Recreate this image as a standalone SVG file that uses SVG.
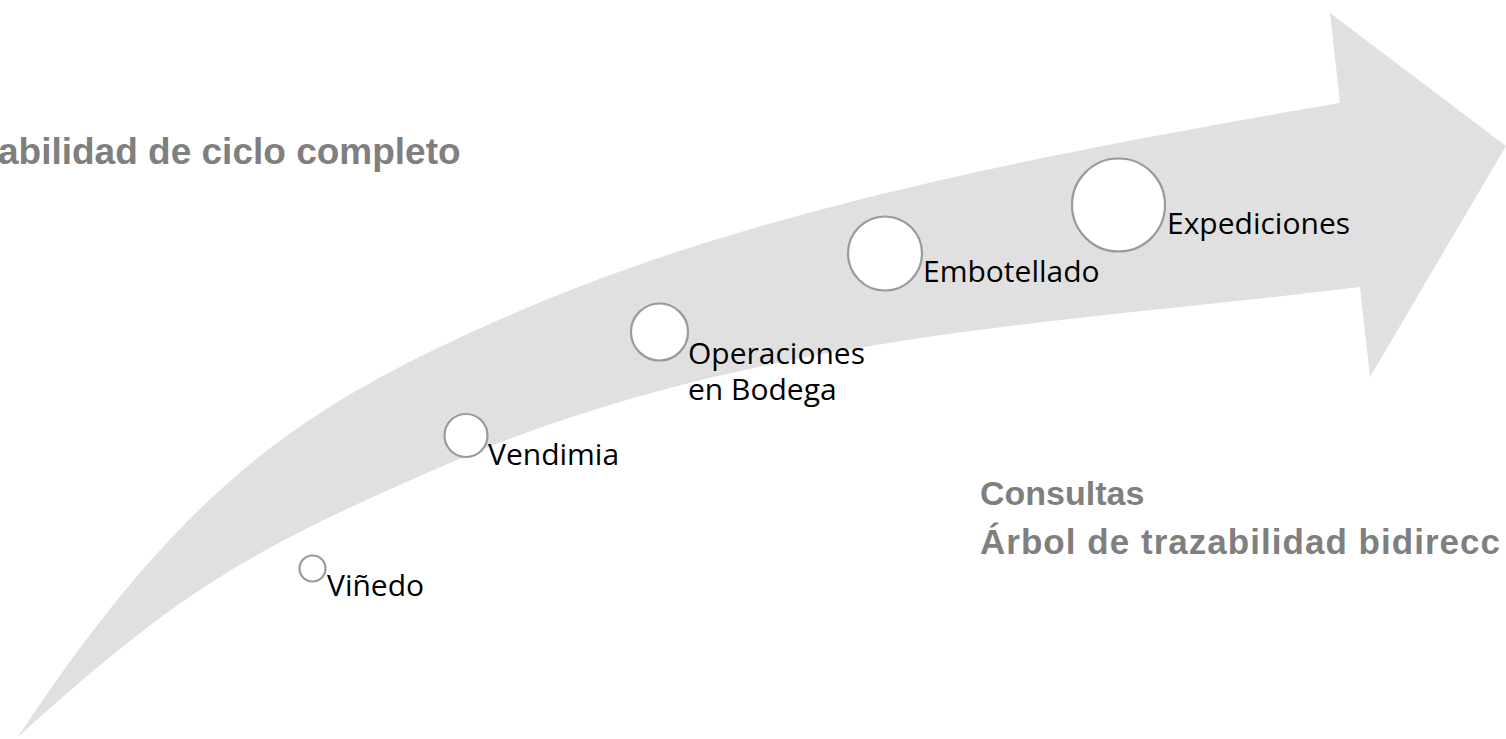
<svg xmlns="http://www.w3.org/2000/svg" width="1506" height="739" viewBox="0 0 1506 739">
<style>
.arrow{fill:#e0e0e0;stroke:none}
.dot{fill:#ffffff;stroke:#9a9a9a;stroke-width:2.2}
.lbl{font-family:"Open Sans","Noto Sans","Liberation Sans",sans-serif;font-size:30px;fill:#000000}
.ttl{font-family:"Liberation Sans",Arial,sans-serif;font-weight:bold;fill:#7f7f7f}
</style>
<rect width="1506" height="739" fill="#ffffff"/>
<g id="arrow">
<path class="arrow" d="M18,737 C183,487 301,409 483,327 C710,224 965,167 1340,103 L1330,13 L1506,146 L1370,377 L1360,287 C1062,324 753,333 450,463 C248,550 181,590 18,737 Z"/>
</g>
<g id="title">
<text class="ttl" x="-2" y="164" font-size="37">abilidad de ciclo completo</text>
</g>
<g id="node-vinedo">
<circle class="dot" cx="312.5" cy="568.5" r="13"/>
<text class="lbl" x="327" y="596">Viñedo</text>
</g>
<g id="node-vendimia">
<circle class="dot" cx="466" cy="435.5" r="21.5"/>
<text class="lbl" x="488" y="465">Vendimia</text>
</g>
<g id="node-operaciones">
<circle class="dot" cx="659.5" cy="332" r="28.5"/>
<text class="lbl" x="688" y="364">Operaciones<tspan x="688" y="400">en Bodega</tspan></text>
</g>
<g id="node-embotellado">
<circle class="dot" cx="885" cy="253.5" r="37"/>
<text class="lbl" x="923" y="282">Embotellado</text>
</g>
<g id="node-expediciones">
<circle class="dot" cx="1118.5" cy="205" r="46.5"/>
<text class="lbl" x="1167" y="234">Expediciones</text>
</g>
<g id="legend">
<text class="ttl" x="980" y="505" font-size="34">Consultas</text>
<text class="ttl" x="980" y="554" font-size="35" textLength="520" lengthAdjust="spacing">Árbol de trazabilidad bidirecc</text>
</g>
</svg>
